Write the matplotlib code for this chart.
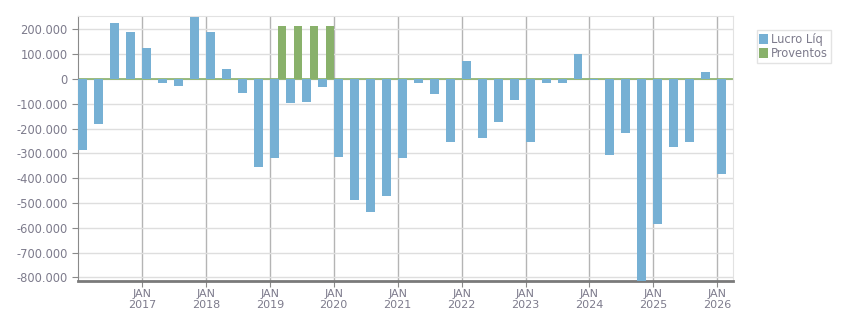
import matplotlib.pyplot as plt
from matplotlib.ticker import FuncFormatter

# quarterly data, 2016 Q1 .. 2026 Q1
quarters = [f'{y}Q{q}' for y in range(2016, 2027) for q in range(1, 5)][:41]
lucro_liq = [-288000, -183000, 224000, 188000, 124000, -17000, -30000, 248000,
             188000, 39000, -58000, -356000, -320000, -98000, -94000, -34000,
             -316000, -489000, -538000, -473000, -320000, -17000, -62000, -255000,
             71000, -239000, -175000, -86000, -255000, -17000, -17000, 99000,
             -5000, -308000, -219000, -840000, -586000, -276000, -255000, 27000,
             -384000]
proventos = {'2019Q2': 212000, '2019Q3': 212000, '2019Q4': 212000, '2020Q1': 212000}
year_ticks = list(range(2017, 2027))

BLUE = '#76b0d4'
GREEN = '#89b16b'
TEXT = '#7d7b8c'

x = [int(q[:4]) + (int(q[-1]) - 1) / 4 for q in quarters]
prov = [proventos.get(q, 0) for q in quarters]

fig = plt.figure(figsize=(8.51, 3.13), dpi=100)
ax = fig.add_axes([0.0917, 0.1022, 0.7696, 0.8467])

ax.axhline(0, color=GREEN, lw=1.2, zorder=2)
ax.bar([v + 0.071 for v in x], lucro_liq, width=0.14, color=BLUE, label='Lucro Líq', zorder=3)
ax.bar([v - 0.064 for v in x], prov, width=0.127, color=GREEN, label='Proventos', zorder=3)

ax.set_xlim(2016.0, 2026.245)
ax.set_ylim(-815000, 254000)
ax.set_yticks(range(-800000, 200001, 100000))
ax.yaxis.set_major_formatter(FuncFormatter(lambda v, p: f'{int(v):,}'.replace(',', '.')))
ax.set_xticks(year_ticks)
ax.set_xticklabels([f'JAN\n{y}' for y in year_ticks], linespacing=1.05)

ax.grid(axis='y', color='#dedede', lw=1, zorder=0)
ax.grid(axis='x', color='#b4b4b4', lw=1, zorder=1)
ax.tick_params(axis='y', colors='#8a8a8a', labelcolor=TEXT, labelsize=8.3, length=4)
ax.tick_params(axis='x', colors='#8a8a8a', labelcolor=TEXT, labelsize=8, length=4, pad=2)

for side in ['top', 'right']:
    ax.spines[side].set_color('#e2e2e2')
ax.spines['left'].set_color('#8a8a8a')
ax.spines['bottom'].set_color('#7a7a7a')
ax.spines['bottom'].set_linewidth(2)

leg = fig.legend(loc='upper left', bbox_to_anchor=(0.889, 0.904), fontsize=8.3,
                 handlelength=0.75, handleheight=0.9, handletextpad=0.25,
                 borderpad=0.25, labelspacing=0.1, borderaxespad=0,
                 fancybox=False, labelcolor=TEXT)
leg.get_frame().set_edgecolor('#dddddd')
leg.get_frame().set_linewidth(1)

fig.savefig('out.png', dpi=100)
